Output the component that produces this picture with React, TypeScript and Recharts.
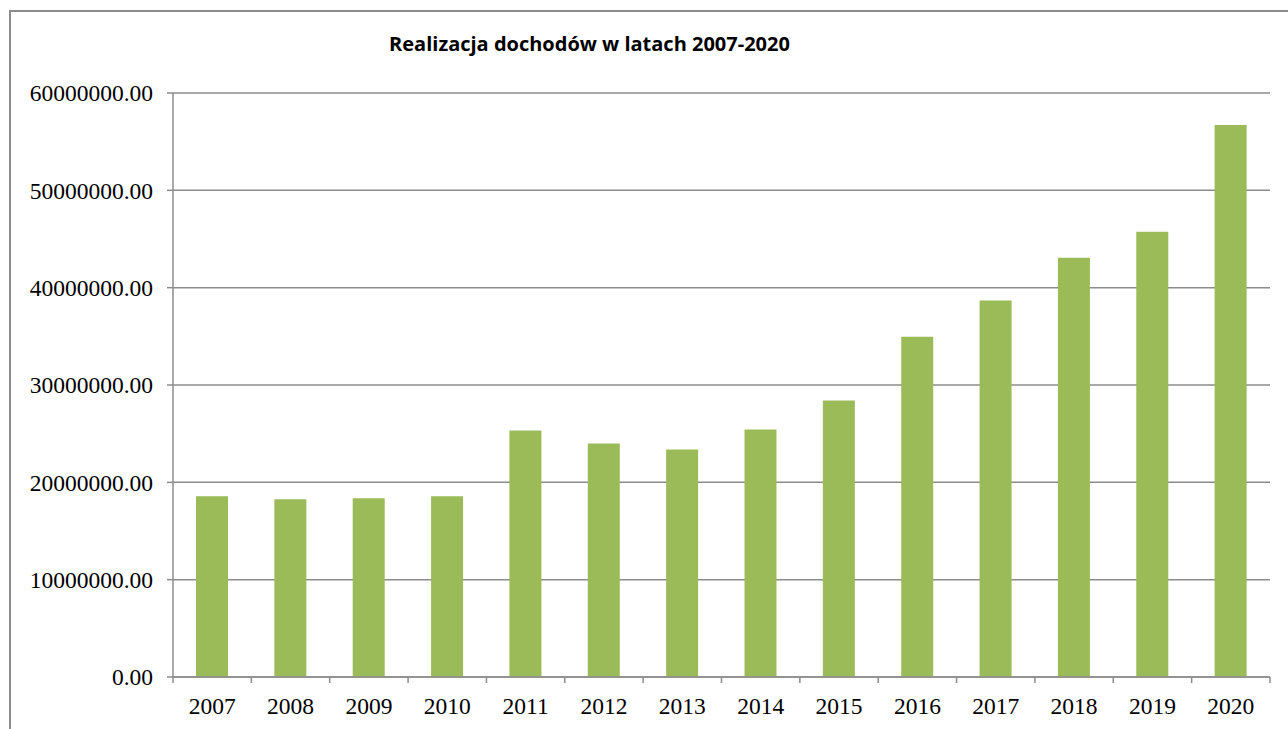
import { BarChart, Bar, XAxis, YAxis, CartesianGrid } from "recharts";

const years = ["2007", "2008", "2009", "2010", "2011", "2012", "2013", "2014", "2015", "2016", "2017", "2018", "2019", "2020"];
const incomes = [18560000, 18260000, 18360000, 18560000, 25330000, 24000000, 23380000, 25440000, 28410000, 34970000, 38670000, 43080000, 45740000, 56720000];
const yTicks = [0, 10000000, 20000000, 30000000, 40000000, 50000000, 60000000];

const data = years.map((year, i) => ({ year, value: incomes[i] }));

const W = 1288;
const H = 729;
const LEFT = 173;
const RIGHT = 18;
const HALF_BAND = (W - LEFT - RIGHT) / years.length / 2;
const GRID = "#8c8c8c";

function YearTick(props: any) {
    const { x, y, payload, index } = props;
    return (
        <g>
            {index === 0 && <line x1={x - HALF_BAND} x2={x - HALF_BAND} y1={y - 6} y2={y} stroke={GRID} strokeWidth={1.5} />}
            <line x1={x + HALF_BAND} x2={x + HALF_BAND} y1={y - 6} y2={y} stroke={GRID} strokeWidth={1.5} />
            <text x={x} y={y + 14} dy="0.71em" textAnchor="middle" fontSize={23.5} fontFamily="'Liberation Serif', serif" fill="#000">
                {payload.value}
            </text>
        </g>
    );
}

export default function App() {
    return (
        <div style={{ position: "absolute", left: 0, top: 0, width: W, height: H, background: "#fff", overflow: "hidden" }}>
            <div style={{ position: "absolute", left: 9, top: 10, width: W + 20, height: H + 20, border: "2px solid #8c8c8c" }} />
            <div
                style={{
                    position: "absolute", left: 0, width: 1179, top: 30, textAlign: "center", lineHeight: "28px",
                    fontFamily: "'Open Sans', sans-serif", fontWeight: 700, fontSize: 20, color: "#000",
                }}
            >
                Realizacja dochodów w latach 2007-2020
            </div>
            <div style={{ position: "absolute", left: 0, top: 0 }}>
                <BarChart width={W} height={H} data={data} margin={{ top: 93, right: RIGHT, bottom: 0, left: 0 }}>
                    <CartesianGrid horizontal vertical={false} stroke={GRID} strokeWidth={1.5} />
                    <XAxis
                        dataKey="year"
                        height={52}
                        axisLine={{ stroke: GRID, strokeWidth: 1.5 }}
                        tickLine={false}
                        tickMargin={0}
                        tick={<YearTick />}
                        interval={0}
                    />
                    <YAxis
                        width={LEFT}
                        domain={[0, 60000000]}
                        ticks={yTicks}
                        tickFormatter={(v: number) => v.toFixed(2)}
                        axisLine={{ stroke: GRID, strokeWidth: 1.5 }}
                        tickLine={{ stroke: GRID, strokeWidth: 1.5 }}
                        tickSize={6}
                        tickMargin={14}
                        tick={{ fontSize: 23.5, fontFamily: "'Liberation Serif', serif", fill: "#000" }}
                    />
                    <Bar dataKey="value" fill="#9BBB59" barSize={32} isAnimationActive={false} />
                </BarChart>
            </div>
        </div>
    );
}
